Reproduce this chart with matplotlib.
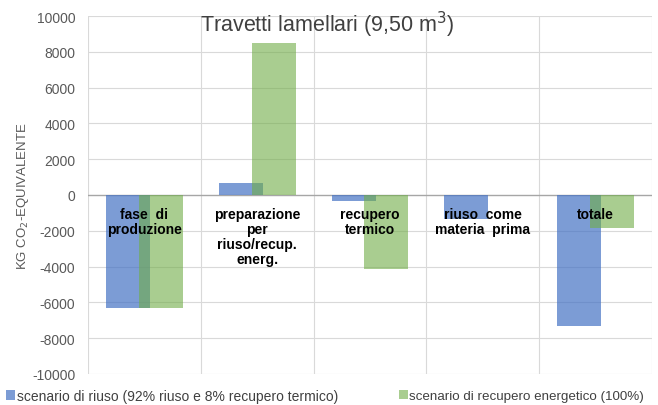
import matplotlib
matplotlib.use("Agg")
import matplotlib.pyplot as plt
from matplotlib.patches import Patch
import numpy as np

plt.rcParams["font.family"] = ["Liberation Sans", "DejaVu Sans"]

# values (kg CO2-eq)
categories = ["fase  di\nproduzione",
              "preparazione\nper\nriuso/recup.\nenerg.",
              "recupero\ntermico",
              "riuso  come\nmateria  prima",
              "totale"]
riuso = [-6300, 650, -330, -1340, -7300]
recupero = [-6300, 8500, -4130, 0, -1840]
series_names = ["scenario di riuso (92% riuso e 8% recupero termico)",
                "scenario di recupero energetico (100%)"]
yticks = [-10000, -8000, -6000, -4000, -2000, 0, 2000, 4000, 6000, 8000, 10000]

BLUE = "#4472C4"
GREEN = "#70AD47"
GRID = "#d9d9d9"
TXT = "#595959"

fig = plt.figure(figsize=(6.58, 4.06), dpi=100)
ax = fig.add_axes([0.1337, 0.0764, 0.8573, 0.8817])

x = np.arange(len(categories))
w = 0.39
off = 0.146
ax.bar(x - off, riuso, w, color=BLUE, alpha=0.7, linewidth=0, zorder=2)
ax.bar(x + off, recupero, w, color=GREEN, alpha=0.6, linewidth=0, zorder=3)

ax.set_xlim(-0.5, len(categories) - 0.5)
ax.set_ylim(-10000, 10000)
ax.set_yticks(yticks)
ax.set_yticklabels([str(v) for v in yticks], fontsize=10, color=TXT)
ax.set_xticks([])
ax.tick_params(axis="y", length=0, pad=9)
for s in ax.spines.values():
    s.set_visible(False)

# Excel-style grid: horizontal at every tick, vertical at category edges
for v in yticks:
    if v != 0:
        ax.axhline(v, color=GRID, linewidth=0.8, zorder=0)
for b in np.arange(-0.5, len(categories), 1.0):
    ax.axvline(b, color=GRID, linewidth=0.8, zorder=0)
ax.axhline(0, color="#a6a6a6", linewidth=1.0, zorder=1)

# category names sit inside the plot, just under the zero line
for xi, lab in zip(x, categories):
    ax.text(xi, -650, lab, ha="center", va="top", fontsize=10,
            fontweight="bold", color="black", linespacing=1.1, zorder=4)

fig.text(0.497, 0.938, "Travetti lamellari (9,50 m$^3$)",
         ha="center", va="center", fontsize=15.5, color="#404040")

ax.set_ylabel("KG CO$_2$-EQUIVALENTE", fontsize=9.5, color=TXT, labelpad=1)

# two separate legend entries, placed like the Excel original
fig.legend([Patch(facecolor=BLUE, alpha=0.7, linewidth=0)], series_names[:1],
           loc="center left", bbox_to_anchor=(0.0, 0.022), frameon=False,
           fontsize=10, handlelength=0.7, handleheight=0.7,
           handletextpad=0.1, borderaxespad=0, labelcolor="#404040")
fig.legend([Patch(facecolor=GREEN, alpha=0.6, linewidth=0)], series_names[1:],
           loc="center left", bbox_to_anchor=(0.598, 0.022), frameon=False,
           fontsize=9.6, handlelength=0.7, handleheight=0.7,
           handletextpad=0.1, borderaxespad=0, labelcolor="#404040")

fig.savefig("out.png", dpi=100)
